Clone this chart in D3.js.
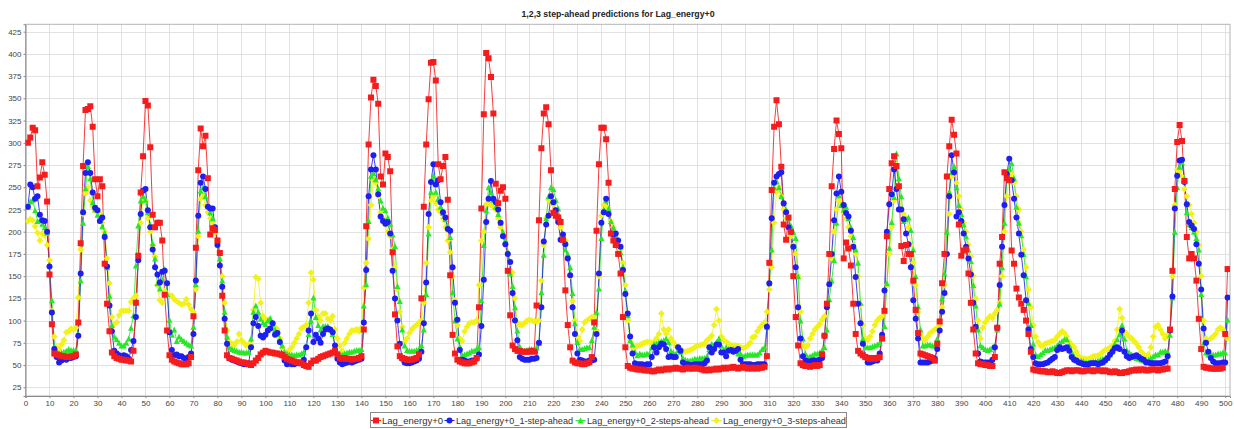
<!DOCTYPE html>
<html><head><meta charset="utf-8">
<script src="https://cdn.jsdelivr.net/npm/d3@7"></script>
<style>
body{margin:0;background:#fff;}
svg{display:block;font-family:"Liberation Sans",Arial,Helvetica,sans-serif;}
</style>
</head><body>
<svg id="chart" width="1234" height="429"></svg>
<script>
// ---------------- DATA ----------------
const chartTitle = "1,2,3 step-ahead predictions for Lag_energy+0";
const seriesNames = ["Lag_energy+0", "Lag_energy+0_1-step-ahead", "Lag_energy+0_2-steps-ahead", "Lag_energy+0_3-steps-ahead"];
const seriesColors = ["#f41c1c", "#1e1ef2", "#2ae62a", "#f2f21a"];
const seriesShapes = ["square", "circle", "triangle", "diamond"];

const actual = [
300,306,317,314,251,261,278,264,234,152,
96,63,62,61,60,60,59,59,60,60,
62,98,187,274,337,338,341,318,259,240,
259,251,164,119,88,64,60,58,57,56,
56,55,55,54,66,120,173,244,285,347,
342,295,219,205,210,210,190,129,89,61,
56,54,53,52,51,51,51,52,59,105,
182,269,316,296,308,260,197,204,202,190,
176,128,89,61,58,57,56,55,54,53,
53,52,51,50,52,55,58,62,64,66,
65,64,64,63,63,62,61,59,57,56,
55,54,53,53,52,50,49,48,52,55,
55,57,59,60,61,62,63,64,66,62,
58,57,58,57,57,56,57,57,58,60,
90,206,298,351,371,364,344,262,253,288,
284,268,177,107,71,60,58,57,56,56,
56,57,58,62,125,228,298,349,390,391,
370,276,259,274,284,236,151,84,63,56,
54,53,52,52,52,53,54,58,115,226,
332,401,395,374,333,254,232,246,250,237,
156,106,72,68,66,66,65,65,65,65,
66,65,117,213,294,333,340,321,269,221,
218,216,211,191,134,95,70,55,53,52,
52,51,51,52,53,59,98,201,276,317,
317,304,255,198,190,185,175,153,104,70,
49,47,46,46,45,45,45,44,44,44,
43,43,44,45,44,45,46,45,46,46,
47,46,46,45,46,47,46,46,47,46,
46,45,44,45,44,45,45,46,45,46,
47,46,47,47,48,47,46,47,48,47,
46,47,46,47,46,47,47,48,60,165,
247,318,348,321,273,208,191,216,200,150,
104,72,52,50,49,49,48,49,50,49,
50,62,83,119,175,251,293,325,310,294,
170,188,181,162,119,85,66,63,61,59,
58,57,58,57,58,59,80,111,195,248,
277,285,274,251,184,167,185,175,175,145,
112,86,63,62,61,60,59,58,55,74,
99,142,175,262,296,326,309,288,208,173,
179,180,153,120,90,63,52,51,51,50,
50,49,49,59,92,164,194,267,260,258,
179,164,136,126,119,112,100,85,65,45,
44,44,43,43,43,42,42,43,42,41,
41,42,43,44,44,43,44,44,44,43,
43,44,44,44,43,44,44,44,43,44,
43,42,42,43,42,41,41,42,42,43,
44,44,45,44,45,45,44,44,45,45,
45,44,45,45,46,46,90,156,248,301,
320,302,257,194,170,175,170,145,102,68,
48,47,47,46,46,46,46,46,47,85,
158];

const step1 = [
228,253,250,237,240,219,213,212,200,161,
109,68,59,53,55,57,56,58,58,59,
60,83,153,222,266,278,266,244,227,224,
212,216,194,161,117,88,66,63,61,59,
61,60,57,67,77,104,168,220,246,248,
224,205,180,160,152,143,155,156,142,87,
67,61,62,60,60,58,57,59,63,85,
145,218,255,262,248,228,226,226,205,185,
162,138,102,74,58,56,55,54,53,52,
51,51,52,70,97,104,94,83,81,84,
89,91,97,84,86,76,62,55,51,52,
51,51,52,52,53,56,70,89,108,76,
84,80,75,85,90,91,90,87,72,57,
53,51,52,53,54,53,54,55,56,57,
98,157,240,270,286,270,242,217,212,209,
211,198,156,125,100,74,57,53,52,52,
53,54,55,57,65,97,143,220,256,276,
253,258,233,222,216,203,201,160,120,101,
67,56,55,54,54,55,55,57,62,94,
146,211,237,257,237,233,225,210,195,186,
175,166,131,100,78,59,57,56,56,56,
57,57,58,75,115,189,208,218,240,233,
224,211,191,197,186,170,151,115,85,63,
56,55,54,54,55,55,56,85,153,210,
222,237,220,198,197,198,190,183,157,130,
108,82,63,52,51,51,51,50,51,51,
59,70,64,70,74,73,68,59,60,59,
59,70,66,53,51,51,50,50,51,51,
51,51,52,55,70,64,68,73,73,64,
64,60,66,67,65,66,68,56,51,51,
51,51,50,50,51,51,51,51,93,142,
215,255,262,265,267,232,222,205,200,183,
160,115,80,60,55,54,54,55,55,55,
56,58,83,115,141,175,213,243,262,245,
230,221,217,201,183,149,119,97,74,59,
53,53,54,55,55,63,84,134,200,231,
242,270,248,225,225,214,198,186,160,123,
102,80,53,53,53,53,54,55,57,68,
89,110,131,175,240,286,267,217,222,212,
198,183,170,152,120,93,63,54,53,53,
53,53,56,70,92,140,183,230,265,282,
258,237,216,198,174,151,123,90,68,59,
52,51,51,51,52,53,55,57,59,67,
70,68,69,70,66,59,56,55,53,52,
51,51,51,52,52,52,51,52,53,55,
58,62,65,69,70,68,89,65,60,58,
59,60,61,59,57,56,53,53,52,52,
52,52,52,53,54,60,89,127,226,263,
280,281,256,231,211,207,203,186,164,135,
91,75,65,58,54,52,52,52,53,53,
126];

const step2 = [
228,234,236,224,212,213,209,205,199,163,
123,71,66,63,64,65,66,68,67,67,
67,85,145,210,249,274,260,233,225,219,
213,206,199,160,128,95,82,79,75,72,
72,75,80,92,106,162,207,235,240,236,
222,208,187,170,142,136,146,158,130,101,
84,90,77,82,79,77,75,73,72,93,
141,201,246,250,240,230,222,215,205,190,
170,145,110,82,70,68,67,66,65,65,
64,64,65,80,110,117,110,102,98,96,
100,103,96,90,85,79,72,65,63,62,
62,61,62,62,63,65,72,85,100,126,
104,95,90,94,94,94,90,85,67,64,
62,62,63,64,65,65,66,67,67,68,
117,141,212,263,266,259,249,235,227,224,
216,209,197,184,139,122,90,72,67,66,
66,66,67,68,72,90,130,198,245,263,
245,237,228,221,214,207,194,132,100,80,
71,61,62,63,64,66,66,68,70,123,
185,224,250,244,236,228,220,210,200,190,
178,153,139,115,89,71,66,66,67,68,
68,68,70,75,132,174,215,240,250,248,
236,226,214,192,180,175,160,131,97,76,
68,68,69,70,70,78,93,110,136,193,
225,236,226,212,205,196,188,177,161,134,
106,78,73,65,61,63,62,62,63,63,
70,74,74,76,77,78,80,76,66,64,
62,67,65,58,56,55,55,56,57,57,
58,58,58,60,68,74,72,76,80,72,
67,70,68,68,68,66,63,63,60,61,
62,62,62,62,62,64,68,70,93,142,
180,250,257,250,240,232,225,215,207,200,
193,150,100,80,63,59,60,61,63,63,
64,67,70,90,124,145,168,210,241,230,
225,228,215,205,194,180,165,120,80,71,
70,70,71,72,73,75,80,94,142,182,
211,239,288,260,240,212,214,216,202,180,
150,116,90,72,72,73,73,72,72,80,
100,125,153,200,245,267,274,250,230,220,
208,195,180,167,140,117,90,72,70,68,
67,68,70,72,90,119,160,210,263,271,
277,260,228,210,196,175,150,120,95,74,
62,60,62,64,67,67,68,69,70,72,
75,77,79,79,72,65,60,55,54,55,
54,53,53,53,54,54,55,56,57,58,
58,62,69,74,79,85,95,80,67,64,
62,60,58,57,56,55,55,56,58,60,
62,62,65,65,66,65,84,126,200,250,
273,278,260,222,208,205,200,193,180,130,
75,64,62,62,62,62,63,63,64,64,
101];

const step3 = [
212,214,213,206,199,190,198,196,185,168,
111,82,70,68,73,78,87,88,91,90,
92,126,180,220,243,250,235,228,224,222,
221,210,200,170,142,104,96,98,106,111,
111,111,111,121,125,128,168,210,238,235,
215,200,185,172,140,123,120,133,130,128,
128,124,122,120,118,119,124,118,113,110,
135,195,237,240,230,222,215,210,199,190,
175,150,120,89,76,74,72,76,85,78,
75,72,73,73,112,149,147,120,105,102,
101,99,96,93,90,80,70,63,64,67,
70,75,80,85,91,93,95,120,154,146,
112,105,100,108,108,102,100,105,90,80,
72,66,75,80,85,89,89,90,88,92,
137,165,192,230,258,255,240,222,215,208,
200,195,180,160,135,110,93,76,80,86,
90,93,95,98,100,120,165,205,235,240,
232,225,222,215,205,190,177,150,123,95,
80,77,88,93,97,98,98,100,140,190,
200,231,232,230,228,225,215,205,195,185,
175,165,154,125,98,95,95,97,100,101,
100,99,99,100,145,185,215,236,236,230,
224,215,205,195,190,170,150,122,100,82,
77,90,98,100,102,104,104,89,150,218,
230,228,220,212,205,198,190,180,165,140,
100,78,70,70,72,72,74,75,76,76,
75,76,80,85,108,90,85,90,80,76,
72,70,68,66,65,66,67,68,70,72,
72,73,74,78,80,83,95,113,100,82,
78,76,74,72,72,72,71,70,69,70,
72,75,81,82,88,92,95,98,110,135,
160,210,245,250,240,225,215,205,195,185,
175,150,110,72,70,72,80,85,90,93,
96,101,105,115,140,170,200,225,235,230,
222,215,205,195,185,175,150,118,95,80,
78,82,88,95,100,103,105,110,140,175,
205,235,275,250,225,220,215,205,185,165,
140,110,85,80,78,82,86,88,90,92,
95,115,140,175,220,262,268,255,240,225,
210,200,185,172,150,125,100,80,92,98,
102,105,103,108,112,120,150,200,240,262,
265,255,240,225,200,180,160,135,115,95,
82,76,72,72,74,75,76,77,78,82,
85,88,86,82,76,73,70,65,60,58,
57,57,57,58,60,60,61,62,65,67,
68,70,72,77,90,113,103,88,85,82,
80,77,74,70,65,62,60,62,70,82,
93,95,90,85,80,84,90,150,230,270,
268,262,248,240,230,220,210,200,185,150,
100,80,78,80,82,85,90,92,90,86,
80];

const xTicks = [0,10,20,30,40,50,60,70,80,90,100,110,120,130,140,150,160,170,180,190,200,
  210,220,230,240,250,260,270,280,290,300,310,320,330,340,350,360,370,380,390,400,
  410,420,430,440,450,460,470,480,490,500];
const yTicks = [25,50,75,100,125,150,175,200,225,250,275,300,325,350,375,400,425];

// ---------------- DRAWING ----------------
const allSeries = [actual, step1, step2, step3];
allSeries.forEach((s, k) => { if (s.length !== 501) throw new Error("series " + k + " length " + s.length); });

const svg = d3.select("#chart");
const W = 1234, H = 429;
const plot = {left: 25.5, right: 1230, top: 24.3, bottom: 396};

svg.append("rect").attr("width", W).attr("height", H).attr("fill", "#fff");

const x = d3.scaleLinear().domain([0, 502]).range([plot.left, plot.right]);
const y = d3.scaleLinear().domain([15.2, 433.3]).range([plot.bottom, plot.top]);

// title
svg.append("text")
  .attr("x", 618).attr("y", 17)
  .attr("text-anchor", "middle")
  .attr("font-size", 9).attr("font-weight", "bold").attr("fill", "#222")
  .attr("textLength", 193).attr("lengthAdjust", "spacingAndGlyphs")
  .text(chartTitle);

// plot background
svg.append("rect")
  .attr("x", plot.left).attr("y", plot.top)
  .attr("width", plot.right - plot.left).attr("height", plot.bottom - plot.top)
  .attr("fill", "#fff");

// gridlines
const grid = svg.append("g").attr("stroke", "#e2e2e2").attr("stroke-width", 1);
grid.selectAll("line.v").data(xTicks.filter(t => t > 0)).join("line")
  .attr("x1", d => Math.round(x(d)) + 0.5).attr("x2", d => Math.round(x(d)) + 0.5)
  .attr("y1", plot.top).attr("y2", plot.bottom);
grid.selectAll("line.h").data(yTicks).join("line")
  .attr("y1", d => Math.round(y(d)) + 0.5).attr("y2", d => Math.round(y(d)) + 0.5)
  .attr("x1", plot.left).attr("x2", plot.right);

// plot outline
svg.append("rect")
  .attr("x", plot.left).attr("y", plot.top)
  .attr("width", plot.right - plot.left).attr("height", plot.bottom - plot.top)
  .attr("fill", "none").attr("stroke", "#b4b4b4").attr("stroke-width", 1);

// axes
const xAxis = d3.axisBottom(x).tickValues(xTicks).tickSize(2).tickPadding(2).tickFormat(d3.format("d"));
const yAxis = d3.axisLeft(y).tickValues(yTicks).tickSize(2).tickPadding(2).tickFormat(d3.format("d"));
const gx = svg.append("g").attr("transform", `translate(0,${plot.bottom})`).call(xAxis);
const gy = svg.append("g").attr("transform", `translate(${plot.left},0)`).call(yAxis);
[gx, gy].forEach(g => {
  g.select(".domain").attr("stroke", "#8a8a8a");
  g.selectAll(".tick line").attr("stroke", "#8a8a8a");
  g.selectAll(".tick text").attr("fill", "#444").attr("font-size", 8)
   .attr("font-family", '"Liberation Sans",Arial,sans-serif');
});

// series
const xi = i => x(i + 1);
const shapePath = {
  square: "M-3,-3H3V3H-3Z",
  circle: "M3,0A3,3 0 1,1 -3,0A3,3 0 1,1 3,0Z",
  triangle: "M0,-3L3,3H-3Z",
  diamond: "M0,-3.4L3.4,0L0,3.4L-3.4,0Z"
};

const clip = svg.append("clipPath").attr("id", "pc").append("rect")
  .attr("x", plot.left).attr("y", plot.top)
  .attr("width", plot.right - plot.left).attr("height", plot.bottom - plot.top);
const layer = svg.append("g").attr("clip-path", "url(#pc)");

const order = [3, 2, 1, 0];
const line = d3.line().x((d, i) => xi(i)).y(d => y(d));
order.forEach(k => {
  layer.append("path").datum(allSeries[k])
    .attr("fill", "none").attr("stroke", seriesColors[k]).attr("stroke-width", 1)
    .attr("stroke-opacity", 0.85)
    .attr("d", line);
});
order.forEach(k => {
  layer.append("g").selectAll("path").data(allSeries[k]).join("path")
    .attr("transform", (d, i) => `translate(${xi(i)},${y(d)})`)
    .attr("d", shapePath[seriesShapes[k]])
    .attr("fill", seriesColors[k]);
});

// legend
const legend = svg.append("g");
legend.append("rect").attr("x", 370.5).attr("y", 412.5).attr("width", 476).attr("height", 15)
  .attr("fill", "#fff").attr("stroke", "#8a8a8a").attr("stroke-width", 1);
const legItems = [
  {mx: 376, tx: 382, tw: 61},
  {mx: 449.5, tx: 456, tw: 117},
  {mx: 580.5, tx: 587, tw: 122},
  {mx: 716.5, tx: 723, tw: 123}
];
legItems.forEach((it, k) => {
  const cy = 420.5;
  legend.append("line").attr("x1", it.mx - 5).attr("x2", it.mx + 5).attr("y1", cy).attr("y2", cy)
    .attr("stroke", seriesColors[k]).attr("stroke-width", 1);
  legend.append("path").attr("transform", `translate(${it.mx},${cy})`)
    .attr("d", shapePath[seriesShapes[k]]).attr("fill", seriesColors[k]);
  legend.append("text").attr("x", it.tx).attr("y", cy + 3.3)
    .attr("font-size", 9).attr("fill", "#333")
    .attr("textLength", it.tw).attr("lengthAdjust", "spacingAndGlyphs")
    .text(seriesNames[k]);
});
</script>
</body></html>
